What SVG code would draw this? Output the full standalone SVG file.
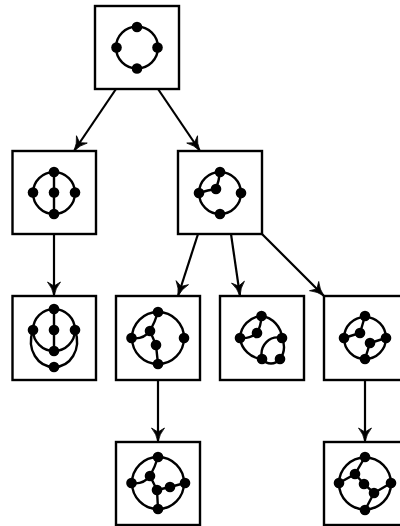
<svg xmlns="http://www.w3.org/2000/svg" width="400" height="526" viewBox="0 0 400 526">
<style>
.box{fill:#fff;stroke:#000;stroke-width:2.4}
.e{fill:none;stroke:#000;stroke-width:2.4}
circle.n{fill:#000;stroke:none;r:5.3px}
.c{stroke:#000;stroke-width:2.2;fill:none;marker-end:url(#a)}
</style>
<defs>
<marker id="a" markerUnits="userSpaceOnUse" markerWidth="18" markerHeight="16" refX="15" refY="8" orient="auto" overflow="visible">
<path d="M15 8 Q7 6.500 1 1.500 L5 8 L1 14.500 Q7 9.500 15 8 Z" fill="#000" stroke="#000" stroke-width="0.8"/>
</marker>
</defs>
<g id="connectors">
<path class="c" d="M116 89 L74 151"/>
<path class="c" d="M158 89 L200 151"/>
<path class="c" d="M54 234 L54 296"/>
<path class="c" d="M198 234 L178 296"/>
<path class="c" d="M231 234 L240 296"/>
<path class="c" d="M262 234 L324 296"/>
<path class="c" d="M158 380 L158 442"/>
<path class="c" d="M365 380 L365 442"/>
</g>
<g id="n1">
<rect class="box" x="95" y="6" width="84" height="83"/>
<circle class="e" cx="137" cy="47.500" r="21"/>
<circle class="n" cx="137" cy="27" r="5"/><circle class="n" cx="116.500" cy="47.500" r="5"/><circle class="n" cx="157.500" cy="47.500" r="5"/><circle class="n" cx="137" cy="68.500" r="5"/>
</g>
<g id="n2">
<rect class="box" x="12.500" y="151" width="83.500" height="83"/>
<circle class="e" cx="54" cy="193" r="21"/>
<path class="e" d="M54 172V214"/>
<circle class="n" cx="54" cy="172" r="5"/><circle class="n" cx="33" cy="192.500" r="5"/><circle class="n" cx="54" cy="192.500" r="5"/><circle class="n" cx="75" cy="192.500" r="5"/><circle class="n" cx="54" cy="214" r="5"/>
</g>
<g id="n3">
<rect class="box" x="178" y="151" width="84" height="83"/>
<circle class="e" cx="220" cy="193" r="21"/>
<path class="e" d="M220 172Q219 181 216 189Q208 190 199 193"/>
<circle class="n" cx="220" cy="172" r="5"/><circle class="n" cx="199" cy="193" r="5"/><circle class="n" cx="216" cy="189" r="5"/><circle class="n" cx="241" cy="193" r="5"/><circle class="n" cx="220" cy="214" r="5"/>
</g>
<g id="n4">
<rect class="box" x="12.500" y="296" width="83.500" height="84"/>
<circle class="e" cx="54" cy="330" r="21"/>
<path class="e" d="M54 309V351M33 330C26 350 38 367 54 367C70 367 82 350 75 330"/>
<circle class="n" cx="54" cy="309" r="5"/><circle class="n" cx="33" cy="330" r="5"/><circle class="n" cx="54" cy="330" r="5"/><circle class="n" cx="75" cy="330" r="5"/><circle class="n" cx="54" cy="351" r="5"/><circle class="n" cx="54" cy="367" r="5"/>
</g>
<g id="n5">
<rect class="box" x="116" y="296" width="84" height="84"/>
<circle class="e" cx="158" cy="338" r="26"/>
<path class="e" d="M158 312Q155 322 150 331Q143 340 131.500 338M150 331L156 345L158 364"/>
<circle class="n" cx="158" cy="312" r="5"/><circle class="n" cx="131.500" cy="338" r="5"/><circle class="n" cx="184" cy="338" r="5"/><circle class="n" cx="158" cy="364" r="5"/><circle class="n" cx="150" cy="331" r="5"/><circle class="n" cx="156" cy="345" r="5"/>
</g>
<g id="n6">
<rect class="box" x="220" y="296" width="84" height="84"/>
<path class="e" d="M282 338A24 24 0 0 0 261.500 316A23 23 0 0 0 240 338A24 24 0 0 0 262 359M282 338C270 335 259 345 262 359C267 365 275 365 280 359C285 352 285 345 282 338"/>
<path class="e" d="M261.500 316Q261 326 257 333Q250 339 240 338"/>
<circle class="n" cx="261.500" cy="316" r="5"/><circle class="n" cx="240" cy="338" r="5"/><circle class="n" cx="257" cy="333" r="5"/><circle class="n" cx="282" cy="338" r="5"/><circle class="n" cx="262" cy="359" r="5"/><circle class="n" cx="280" cy="359" r="5"/>
</g>
<g id="n7">
<rect class="box" x="324" y="296" width="84" height="84"/>
<circle class="e" cx="365" cy="338" r="21"/>
<path class="e" d="M365 316L360 333L344 338M386 338L370 343L365 359"/>
<circle class="n" cx="365" cy="316" r="5"/><circle class="n" cx="344" cy="338" r="5"/><circle class="n" cx="386" cy="338" r="5"/><circle class="n" cx="365" cy="359" r="5"/><circle class="n" cx="360" cy="333" r="5"/><circle class="n" cx="370" cy="343" r="5"/>
</g>
<g id="n8">
<rect class="box" x="116" y="442" width="84" height="83"/>
<circle class="e" cx="158" cy="483" r="26"/>
<path class="e" d="M158 457Q155 467 150 476Q143 485 131.500 483M150 476L157 490L158 509M157 490L170 487L185 483"/>
<circle class="n" cx="158" cy="457" r="5"/><circle class="n" cx="131.500" cy="483" r="5"/><circle class="n" cx="185" cy="483" r="5"/><circle class="n" cx="158" cy="509" r="5"/><circle class="n" cx="150" cy="476" r="5"/><circle class="n" cx="157" cy="490" r="5"/><circle class="n" cx="170" cy="487" r="5"/>
</g>
<g id="n9">
<rect class="box" x="324" y="442" width="84" height="83"/>
<circle class="e" cx="365" cy="483.500" r="26"/>
<path class="e" d="M365 457L355 474L339 483M355 474L364 484L374 493L391 483M374 493L365 510"/>
<circle class="n" cx="365" cy="457" r="5"/><circle class="n" cx="339" cy="483" r="5"/><circle class="n" cx="391" cy="483" r="5"/><circle class="n" cx="365" cy="510" r="5"/><circle class="n" cx="355" cy="474" r="5"/><circle class="n" cx="364" cy="484" r="5"/><circle class="n" cx="374" cy="493" r="5"/>
</g>
</svg>
